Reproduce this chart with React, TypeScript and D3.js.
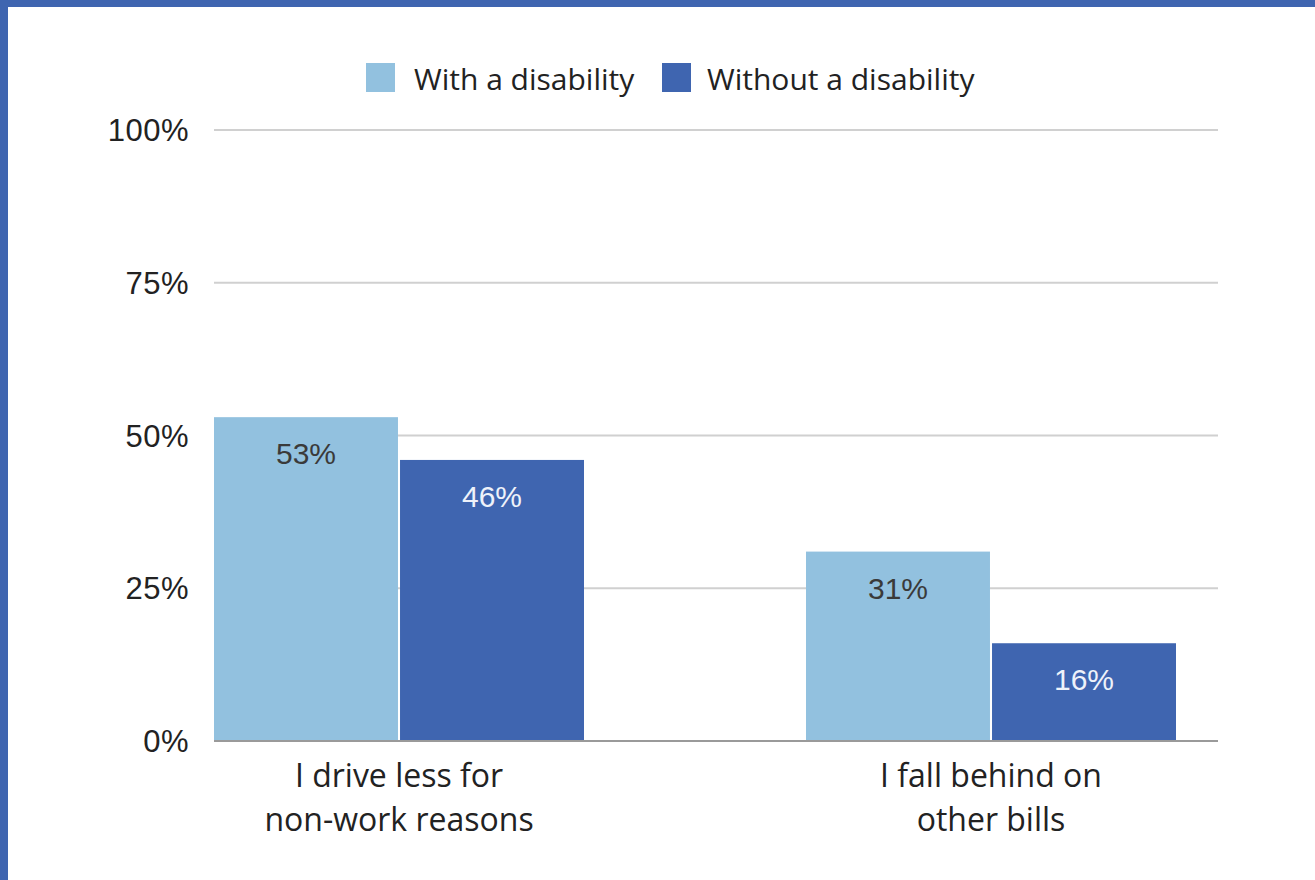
import React from "react";
import * as d3 from "d3";

const categories = ["I drive less for non-work reasons", "I fall behind on other bills"];
const categoryLines = [["I drive less for", "non-work reasons"], ["I fall behind on", "other bills"]];
const seriesNames = ["With a disability", "Without a disability"];
const withDisability = [53, 31];
const withoutDisability = [46, 16];
const seriesValues = [withDisability, withoutDisability];
const yTicks = [0, 25, 50, 75, 100];
const colors = ["#92c1df", "#3f65b0"];
const labelColors = ["#3a3a3a", "#eef2fa"];

const W = 1315;
const H = 880;
const plotLeft = 214;
const plotRight = 1218;
const plotTop = 130;
const plotBottom = 741;

export default function App() {
  const y = d3.scaleLinear().domain([0, 100]).range([plotBottom, plotTop]);
  const x0 = d3
    .scaleBand<string>()
    .domain(categories)
    .range([plotLeft, 1176])
    .paddingInner(0.375)
    .paddingOuter(0);
  const x1 = d3
    .scaleBand<number>()
    .domain([0, 1])
    .range([0, x0.bandwidth()])
    .paddingInner(0.011);

  const sansA = "'Open Sans', 'Noto Sans', sans-serif";
  const sansB = "'Liberation Sans', Arial, sans-serif";

  const legendItems = [
    { sx: 366, tx: 414 },
    { sx: 662, tx: 707 },
  ];

  return (
    <svg
      width={W}
      height={H}
      style={{ position: "fixed", left: 0, top: 0, background: "#fff" }}
    >
      <rect x={0} y={0} width={W} height={H} fill="#fff" />
      <rect x={0} y={0} width={W} height={7} fill="#3f65b0" />
      <rect x={0} y={0} width={8} height={H} fill="#3f65b0" />

      {/* gridlines */}
      {yTicks.map((t) => (
        <g key={t}>
          {t !== 0 && (
            <line
              x1={plotLeft}
              x2={plotRight}
              y1={y(t)}
              y2={y(t)}
              stroke="#d0d0d0"
              strokeWidth={2}
            />
          )}
          <text
            x={189}
            y={y(t)}
            dy="0.36em"
            textAnchor="end"
            fontFamily={sansB}
            fontSize={31}
            letterSpacing={0.5}
            fill="#222"
          >
            {t}%
          </text>
        </g>
      ))}

      {/* bars */}
      {categories.map((c, ci) => (
        <g key={c} transform={`translate(${x0(c)},0)`}>
          {seriesValues.map((vals, si) => {
            const v = vals[ci];
            const bx = x1(si)!;
            const bw = x1.bandwidth();
            return (
              <g key={si}>
                <rect
                  x={bx}
                  y={y(v)}
                  width={bw}
                  height={y(0) - y(v)}
                  fill={colors[si]}
                />
                <text
                  x={bx + bw / 2}
                  y={y(v) + 47}
                  textAnchor="middle"
                  fontFamily={sansB}
                  fontSize={30}
                  fill={labelColors[si]}
                >
                  {v}%
                </text>
              </g>
            );
          })}
          {categoryLines[ci].map((line, li) => (
            <text
              key={li}
              x={x0.bandwidth() / 2}
              y={787 + li * 44}
              textAnchor="middle"
              fontFamily={sansA}
              fontSize={32}
              fill="#222"
            >
              {line}
            </text>
          ))}
        </g>
      ))}

      {/* baseline */}
      <line
        x1={plotLeft}
        x2={plotRight}
        y1={y(0)}
        y2={y(0)}
        stroke="#9a9a9a"
        strokeWidth={2}
      />

      {/* legend */}
      {seriesNames.map((name, i) => (
        <g key={name}>
          <rect
            x={legendItems[i].sx}
            y={63}
            width={29}
            height={29}
            fill={colors[i]}
          />
          <text
            x={legendItems[i].tx}
            y={90}
            fontFamily={sansA}
            fontSize={30}
            fill="#222"
          >
            {name}
          </text>
        </g>
      ))}
    </svg>
  );
}
